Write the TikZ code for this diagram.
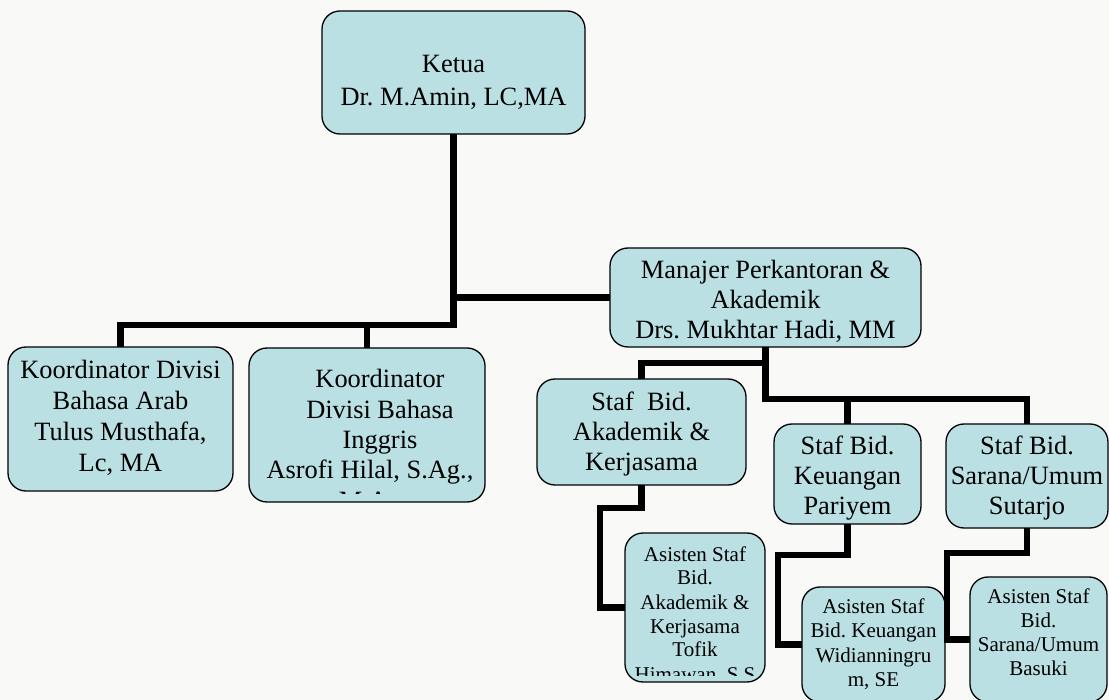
\documentclass[tikz,border=0pt]{standalone}
\usepackage{fontspec}
\setmainfont{Liberation Serif}
\frenchspacing
\definecolor{boxfill}{RGB}{186,224,227}
\definecolor{bg}{RGB}{249,249,247}
\newcommand{\stacklines}[1]{\begin{tabular}[t]{@{}c@{}}#1\end{tabular}}
\tikzset{
  orgbox/.style={draw=black, line width=1.3pt, fill=boxfill, rounded corners=18pt, inner sep=0pt, outer sep=0pt},
  bigtxt/.style={anchor=base, inner sep=0pt, font=\fontsize{26.4}{31}\selectfont},
  smalltxt/.style={anchor=base, inner sep=0pt, font=\fontsize{21}{24.2}\selectfont},
  conn/.style={line width=6.5pt, draw=black, line join=miter},
}
\begin{document}
\begin{tikzpicture}[x=1pt,y=-1pt]
\path[use as bounding box, fill=bg] (0,0) rectangle (1109,700);

% boxes
\node[orgbox, minimum width=263pt, minimum height=123pt] (ketua) at (453.5,72.5) {};
\node[orgbox, minimum width=311pt, minimum height=99pt] (manajer) at (765.5,297.5) {};
\node[orgbox, minimum width=225pt, minimum height=144pt] (koord1) at (120.5,419) {};
\node[orgbox, minimum width=236pt, minimum height=154pt] (koord2) at (367,425) {};
\node[orgbox, minimum width=209pt, minimum height=106pt] (stafak) at (641.5,432) {};
\node[orgbox, minimum width=147pt, minimum height=100pt] (keu) at (847.5,474) {};
\node[orgbox, minimum width=162pt, minimum height=104pt] (sarana) at (1027,476) {};
\node[orgbox, minimum width=140pt, minimum height=149pt] (asak) at (695,607.5) {};
\node[orgbox, minimum width=143pt, minimum height=115pt] (askeu) at (873.5,644.5) {};
\node[orgbox, minimum width=137pt, minimum height=125pt] (assar) at (1038.5,639.5) {};

% texts
\node[bigtxt, font=\fontsize{26.4}{33}\selectfont] (tketua) at (453.5,73) {\stacklines{Ketua\\Dr. M.Amin, LC,MA}};
\node[bigtxt, font=\fontsize{26.4}{30}\selectfont] (tman) at (765.5,279) {\stacklines{Manajer Perkantoran \&\\Akademik\\Drs. Mukhtar Hadi, MM}};
\node[bigtxt] (tk1) at (120.5,379) {\stacklines{Koordinator Divisi\\Bahasa Arab\\Tulus Musthafa,\\Lc, MA}};
\begin{scope}
  \clip (249,348) rectangle (485,494);
  \node[bigtxt, font=\fontsize{26.4}{30.3}\selectfont] (tk2) at (380,388) {\stacklines{Koordinator\\Divisi Bahasa\\Inggris\\Asrofi Hilal, S.Ag.,\hspace*{20pt}\\M.Ag\hspace*{20pt}}};
\end{scope}
\node[bigtxt, font=\fontsize{26.4}{30}\selectfont] (tsa) at (641.5,411) {\stacklines{Staf\ \ Bid.\\Akademik \&\\Kerjasama}};
\node[bigtxt, font=\fontsize{26.4}{30}\selectfont] (tkeu) at (847.5,455) {\stacklines{Staf Bid.\\Keuangan\\Pariyem}};
\node[bigtxt, font=\fontsize{26.4}{30}\selectfont] (tsar) at (1027,455) {\stacklines{Staf Bid.\\Sarana/Umum\\Sutarjo}};
\begin{scope}
  \clip (625,533) rectangle (765,675);
  \node[smalltxt, font=\fontsize{21}{24}\selectfont] (tasak) at (695,561) {\stacklines{Asisten Staf\\Bid.\\Akademik \&\\Kerjasama\\Tofik\\Himawan, S.S}};
\end{scope}
\node[smalltxt, font=\fontsize{21}{24.6}\selectfont] (taskeu) at (873.5,613) {\stacklines{Asisten Staf\\Bid. Keuangan\\Widianningru\\m, SE}};
\node[smalltxt, font=\fontsize{21}{24}\selectfont] (tassar) at (1038.5,603) {\stacklines{Asisten Staf\\Bid.\\Sarana/Umum\\Basuki}};

% connectors
\coordinate (j1) at (453,325);
\coordinate (j2) at (0,363);
\coordinate (j3) at (0,399);
\coordinate (a1) at (600,508);
\coordinate (b1) at (778,555);
\coordinate (c1) at (947,553);
\draw[conn] (ketua.south) -- (ketua.south |- j1) -| (koord1.north);
\draw[conn] (koord2.north) -- (koord2.north |- j1);
\draw[conn] (ketua.south |- manajer.west) -- (manajer.west);
\draw[conn] (manajer.south) -- (manajer.south |- j3) -| (sarana.north);
\draw[conn] (manajer.south |- j2) -| (stafak.north);
\draw[conn] (keu.north) -- (keu.north |- j3);
\draw[conn] (stafak.south) |- (a1) |- (asak.west);
\draw[conn] (keu.south) |- (b1) |- (askeu.west);
\draw[conn] (sarana.south) |- (c1) |- (assar.west);
\end{tikzpicture}
\end{document}
